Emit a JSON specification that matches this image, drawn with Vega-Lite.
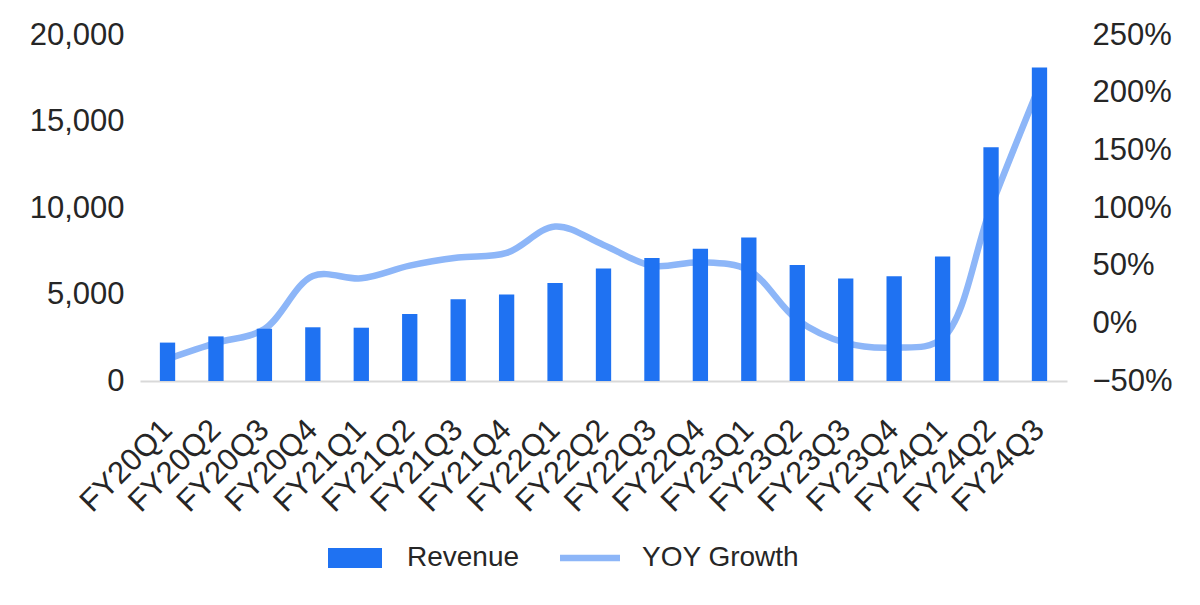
{
  "$schema": "https://vega.github.io/schema/vega-lite/v6.json",
  "width": 927,
  "height": 346,
  "autosize": {"type": "none"},
  "padding": {"left": 140, "top": 35, "right": 133, "bottom": 224},
  "background": "white",
  "config": {
    "view": {"stroke": null},
    "font": "Liberation Sans",
    "axis": {
      "labelFont": "Liberation Sans",
      "labelFontSize": 31,
      "labelColor": "#262626",
      "grid": false,
      "ticks": false,
      "domain": false,
      "title": null
    },
    "legend": {"labelFont": "Liberation Sans"}
  },
  "data": {
    "values": [
      {"quarter": "FY20Q1", "revenue": 2220, "yoy": -0.31},
      {"quarter": "FY20Q2", "revenue": 2579, "yoy": -0.17},
      {"quarter": "FY20Q3", "revenue": 3014, "yoy": -0.05},
      {"quarter": "FY20Q4", "revenue": 3105, "yoy": 0.41},
      {"quarter": "FY21Q1", "revenue": 3080, "yoy": 0.39},
      {"quarter": "FY21Q2", "revenue": 3866, "yoy": 0.50},
      {"quarter": "FY21Q3", "revenue": 4726, "yoy": 0.57},
      {"quarter": "FY21Q4", "revenue": 5003, "yoy": 0.61},
      {"quarter": "FY22Q1", "revenue": 5661, "yoy": 0.84},
      {"quarter": "FY22Q2", "revenue": 6507, "yoy": 0.68},
      {"quarter": "FY22Q3", "revenue": 7103, "yoy": 0.50},
      {"quarter": "FY22Q4", "revenue": 7643, "yoy": 0.53},
      {"quarter": "FY23Q1", "revenue": 8288, "yoy": 0.46},
      {"quarter": "FY23Q2", "revenue": 6704, "yoy": 0.03},
      {"quarter": "FY23Q3", "revenue": 5931, "yoy": -0.17},
      {"quarter": "FY23Q4", "revenue": 6051, "yoy": -0.21},
      {"quarter": "FY24Q1", "revenue": 7192, "yoy": -0.13},
      {"quarter": "FY24Q2", "revenue": 13507, "yoy": 1.01},
      {"quarter": "FY24Q3", "revenue": 18120, "yoy": 2.06}
    ]
  },
  "encoding": {
    "x": {
      "field": "quarter",
      "type": "ordinal",
      "sort": null,
      "scale": {"paddingInner": 0.684, "paddingOuter": 0.41},
      "axis": {
        "labelAngle": -45,
        "labelAlign": "right",
        "labelBaseline": "middle",
        "domain": true,
        "domainColor": "#d9d9d9",
        "domainWidth": 2,
        "labelPadding": 44
      }
    }
  },
  "layer": [
    {
      "mark": {"type": "line", "interpolate": "catmull-rom", "strokeWidth": 6.5, "strokeCap": "round"},
      "encoding": {
        "y": {
          "field": "yoy",
          "type": "quantitative",
          "scale": {"domain": [-0.5, 2.5], "nice": false},
          "axis": {"orient": "right", "format": ".0%", "values": [-0.5, 0, 0.5, 1, 1.5, 2, 2.5], "labelPadding": 25}
        },
        "color": {
          "datum": "YOY Growth",
          "scale": {"domain": ["Revenue", "YOY Growth"], "range": ["#1f72f2", "#8db6f8"]},
          "legend": {
            "orient": "none",
            "legendX": 185,
            "legendY": 493,
            "direction": "horizontal",
            "title": null,
            "labelFontSize": 28,
            "labelColor": "#262626",
            "symbolSize": 3600,
            "labelOffset": 22,
            "columnPadding": 40,
            "encode": {
              "symbols": {
                "update": {
                  "shape": {"signal": "datum.value === 'Revenue' ? 'M-0.9,-0.33H0.9V0.33H-0.9Z' : 'M-1,-0.11H1V0.11H-1Z'"},
                  "fill": {"signal": "datum.value === 'Revenue' ? '#1f72f2' : '#8db6f8'"},
                  "fillOpacity": {"value": 1},
                  "opacity": {"value": 1},
                  "strokeWidth": {"value": 0}
                }
              }
            }
          }
        }
      }
    },
    {
      "mark": {"type": "bar"},
      "encoding": {
        "y": {
          "field": "revenue",
          "type": "quantitative",
          "scale": {"domain": [0, 20000], "nice": false},
          "axis": {"orient": "left", "format": ",.0f", "values": [0, 5000, 10000, 15000, 20000], "labelPadding": 16}
        },
        "color": {
          "datum": "Revenue",
          "scale": {"domain": ["Revenue", "YOY Growth"], "range": ["#1f72f2", "#8db6f8"]}
        }
      }
    }
  ],
  "resolve": {"scale": {"y": "independent"}}
}
